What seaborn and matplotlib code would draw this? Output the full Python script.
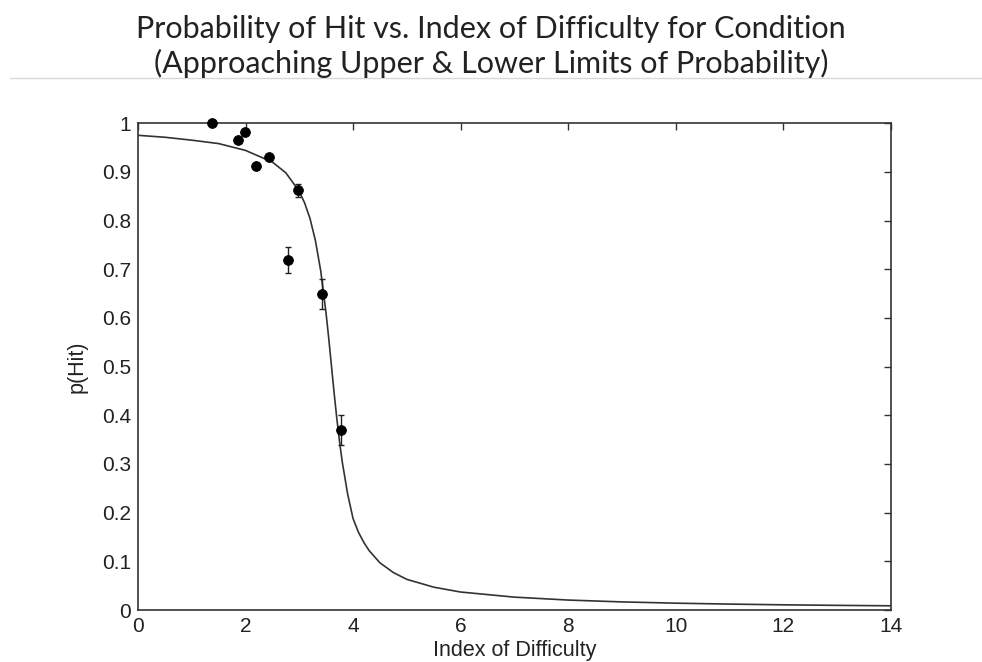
import numpy as np
import pandas as pd
import matplotlib
matplotlib.use("Agg")
import matplotlib.pyplot as plt
import seaborn as sns

index_of_difficulty = [1.38, 1.86, 1.99, 2.20, 2.44, 2.97, 2.79, 3.43, 3.78]
p_hit = [1.000, 0.965, 0.982, 0.912, 0.930, 0.862, 0.719, 0.649, 0.370]
p_err = [0.004, 0.006, 0.006, 0.007, 0.006, 0.014, 0.027, 0.031, 0.031]

# fitted curve
curve_x = [0.0, 0.5, 1.0, 1.5, 2.0, 2.5, 2.75, 3.0, 3.1, 3.2, 3.3, 3.4, 3.45,
           3.5, 3.55, 3.6, 3.65, 3.7, 3.75, 3.8, 3.9, 4.0, 4.1, 4.2, 4.3,
           4.5, 4.75, 5.0, 5.5, 6.0, 7.0, 8.0, 9.0, 10.0, 11.0, 12.0, 13.0, 14.0]
curve_p = [0.975, 0.971, 0.965, 0.958, 0.944, 0.920, 0.898, 0.860, 0.836, 0.804,
           0.759, 0.696, 0.652, 0.608, 0.556, 0.500, 0.444, 0.392, 0.345, 0.304,
           0.238, 0.188, 0.160, 0.139, 0.122, 0.097, 0.077, 0.063, 0.047, 0.037,
           0.0265, 0.0205, 0.0167, 0.0141, 0.0122, 0.0107, 0.0096, 0.0087]

points = pd.DataFrame({"id": index_of_difficulty, "p": p_hit, "err": p_err})
curve = pd.DataFrame({"id": curve_x, "p": curve_p})

sns.set_theme(style="white")
plt.rcParams["font.family"] = ["Liberation Sans", "DejaVu Sans"]

fig = plt.figure(figsize=(9.82, 6.62), dpi=100)
ax = fig.add_axes([0.1405, 0.0785, 0.7665, 0.7355])

sns.lineplot(data=curve, x="id", y="p", ax=ax, color="#333333", linewidth=1.2)
ax.errorbar(points["id"], points["p"], yerr=points["err"], fmt="none",
            ecolor="#222222", elinewidth=1.0, capsize=2.5, zorder=3)
sns.scatterplot(data=points, x="id", y="p", ax=ax, color="black", s=50,
                edgecolor="black", zorder=4, clip_on=False)

ax.set_xlim(0, 14)
ax.set_ylim(0, 1)
ax.set_xticks(np.arange(0, 15, 2))
ax.set_yticks(np.round(np.arange(0, 1.01, 0.1), 1))
ax.set_yticklabels(["0", "0.1", "0.2", "0.3", "0.4", "0.5", "0.6", "0.7", "0.8", "0.9", "1"])
ax.tick_params(direction="in", length=5, width=1, top=True, right=True,
               labelsize=15, colors="#333333", labelcolor="#222222", pad=5)
for sp in ax.spines.values():
    sp.set_color("#333333")
    sp.set_linewidth(1.2)

ax.set_xlabel("Index of Difficulty", fontsize=15.5, color="#222222", labelpad=3)
ax.set_ylabel("p(Hit)", fontsize=15.5, color="#222222", labelpad=10)

fig.text(0.5, 0.956, "Probability of Hit vs. Index of Difficulty for Condition",
         ha="center", va="center", fontsize=22, family=["Lato", "DejaVu Sans"], color="#222222")
fig.text(0.5, 0.904, "(Approaching Upper & Lower Limits of Probability)",
         ha="center", va="center", fontsize=22, family=["Lato", "DejaVu Sans"], color="#222222")
fig.add_artist(plt.Line2D([0.01, 1.0], [0.882, 0.882], color="#d9d9d9", linewidth=1))

fig.savefig("out.png", dpi=100)
